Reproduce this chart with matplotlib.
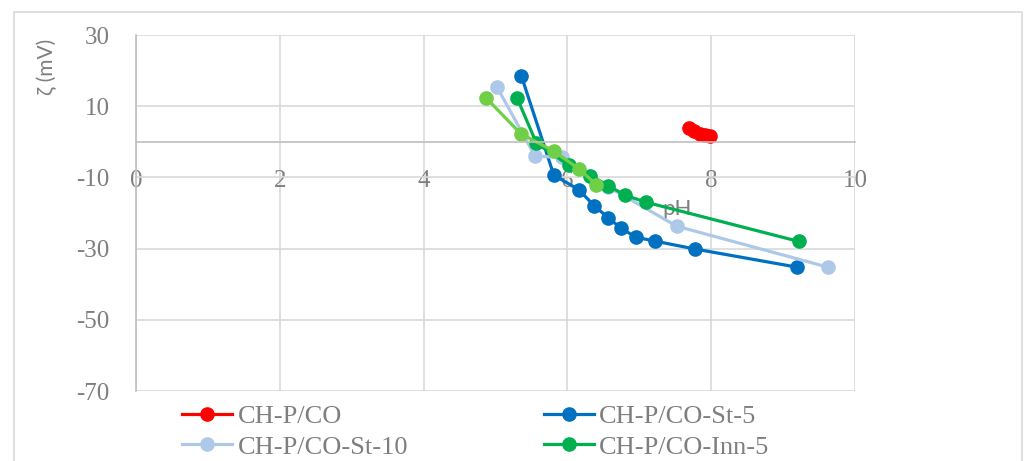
import matplotlib.pyplot as plt
from matplotlib.patches import Rectangle

plt.rcParams['axes.unicode_minus'] = False

# zeta potential vs pH
ph_co = [7.69, 7.76, 7.84, 7.91, 7.99]
zeta_co = [3.9, 3.1, 2.2, 1.8, 1.5]

ph_st5 = [5.36, 5.81, 6.16, 6.37, 6.57, 6.75, 6.95, 7.22, 7.77, 9.19]
zeta_st5 = [18.5, -9.3, -13.5, -17.9, -21.4, -24.3, -26.8, -27.9, -30.1, -35.2]

ph_st10 = [5.02, 5.55, 5.92, 6.32, 6.57, 7.52, 9.62]
zeta_st10 = [15.4, -4.0, -4.4, -9.7, -12.7, -23.7, -35.2]

ph_inn5 = [5.30, 5.57, 6.02, 6.32, 6.57, 6.80, 7.10, 9.22]
zeta_inn5 = [12.3, -0.4, -6.6, -9.5, -12.3, -15.0, -17.0, -28.0]

ph_inn10 = [4.87, 5.35, 5.81, 6.16, 6.40]
zeta_inn10 = [12.3, 2.3, -2.6, -7.6, -12.0]

x_ticks = [0, 2, 4, 6, 8, 10]
y_ticks = [30, 10, -10, -30, -50, -70]

txt = '#7F7F7F'
serif = 'Liberation Serif'

fig = plt.figure(figsize=(10.27, 4.61), dpi=100)
ax = fig.add_axes([136 / 1027, 1 - 391 / 461, 719 / 1027, 356 / 461])

# outer chart border
fig.add_artist(Rectangle((14 / 1027, -0.1), 1008 / 1027, 1.1 - 12 / 461,
                         transform=fig.transFigure, fill=False,
                         edgecolor='#D9D9D9', linewidth=1.2))

kw = dict(marker='o', markersize=9.5, linewidth=2.3)
l_co, = ax.plot(ph_co, zeta_co, color='#FF0000', label='CH-P/CO', **kw)
l_st5, = ax.plot(ph_st5, zeta_st5, color='#0070C0', label='CH-P/CO-St-5', **kw)
l_st10, = ax.plot(ph_st10, zeta_st10, color='#AEC8EA', label='CH-P/CO-St-10', **kw)
l_inn5, = ax.plot(ph_inn5, zeta_inn5, color='#00B050', label='CH-P/CO-Inn-5', **kw)
ax.plot(ph_inn10, zeta_inn10, color='#6FCF47', **kw)

ax.set_xlim(0, 10)
ax.set_ylim(-70, 30)
ax.set_xticks(x_ticks)
ax.set_yticks(y_ticks)
ax.grid(True, color='#D9D9D9', linewidth=1.2)
ax.set_axisbelow(True)

for s in ['top', 'right']:
    ax.spines[s].set_visible(False)
ax.spines['bottom'].set_position(('data', 0))
ax.spines['bottom'].set_color('#BFBFBF')
ax.spines['left'].set_color('#BFBFBF')
ax.spines['bottom'].set_linewidth(1.2)
ax.spines['left'].set_linewidth(1.2)

ax.tick_params(axis='both', length=0, labelcolor=txt, labelsize=18)
ax.tick_params(axis='x', pad=20)
ax.tick_params(axis='y', pad=19)
for lab in ax.get_xticklabels() + ax.get_yticklabels():
    lab.set_fontfamily(serif)

ax.set_xlabel('pH', fontsize=16, color=txt, family='Lato')
ax.xaxis.set_label_coords(0.752, 0.539)
ax.set_ylabel('ζ (mV)', fontsize=15, color=txt, family=['Lato', 'DejaVu Sans'])
ax.yaxis.set_label_coords(-0.110, 0.91)

fig.legend(handles=[l_co, l_st10, l_st5, l_inn5], ncol=2, frameon=False,
           loc='upper left', bbox_to_anchor=(182 / 1027, 1 - 405 / 461),
           prop={'family': serif, 'size': 19}, labelcolor=txt,
           borderpad=0, borderaxespad=0, handlelength=1.9, handletextpad=0.2,
           columnspacing=5.15, labelspacing=0.25)

fig.savefig('out.png', dpi=100)
